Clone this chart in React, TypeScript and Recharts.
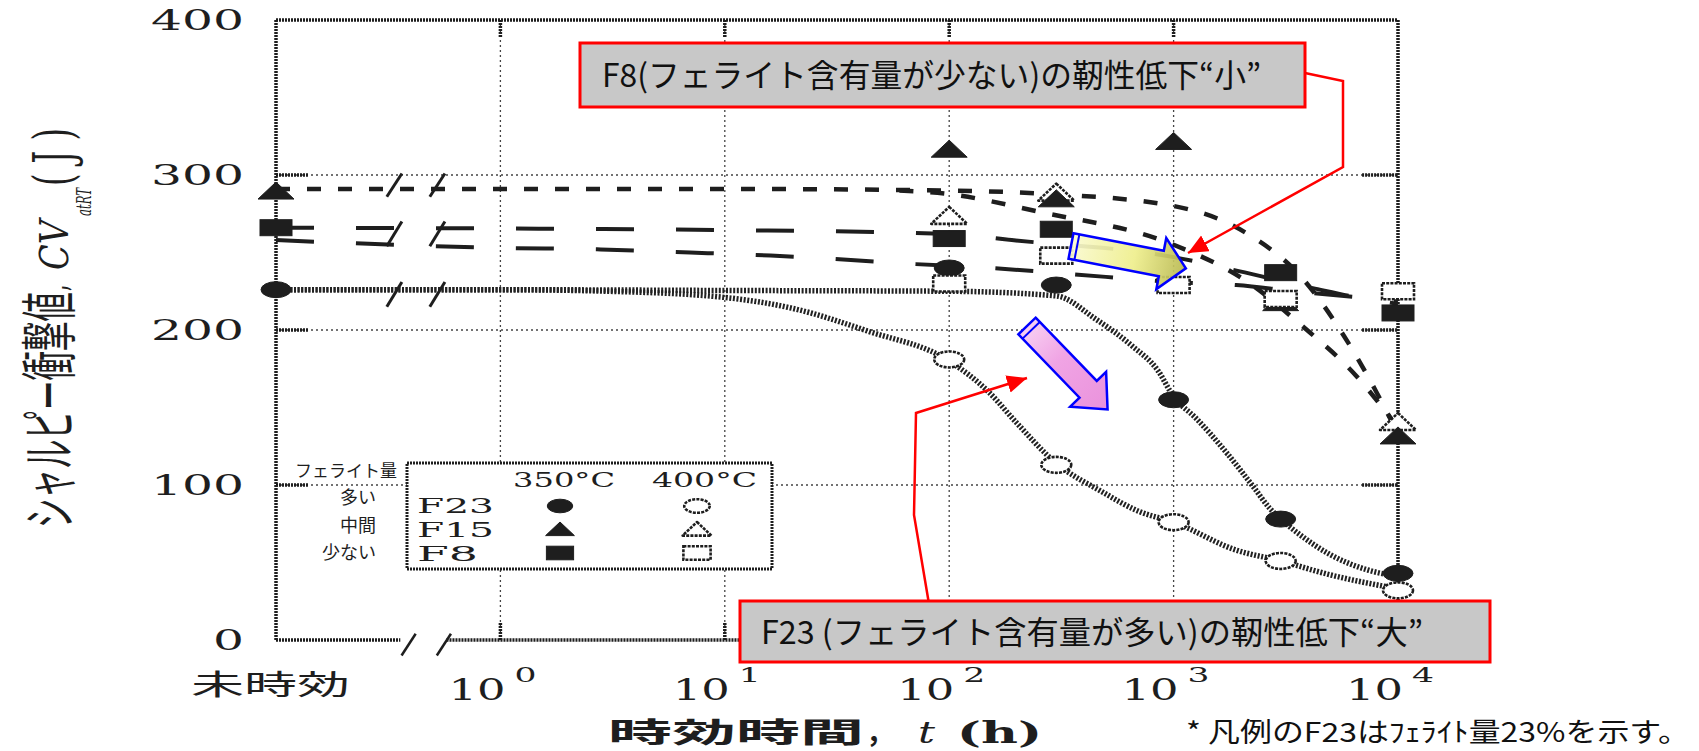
import React from 'react';
import { ComposedChart, Line, Scatter, XAxis, YAxis, CartesianGrid, ReferenceLine } from 'recharts';

const W = 1699;
const H = 751;

const SERIF = '"DejaVu Serif", "Liberation Serif", serif';
const JP = '"Noto Sans CJK JP", "Noto Sans", sans-serif';
const INK = '#1e1e1e';

// x = ageing time in h (0.1 stands for the 未時効 column), y = Charpy energy (J)
const xTicks = [0.1, 1, 10, 100, 1000, 10000];
const yTicks = [0, 100, 200, 300, 400];

// measured points
const f23At350_t = [0.1, 100, 300, 1000, 3000, 10000];
const f23At350_v = [226, 240, 229, 155, 78, 43];
const f23At400_t = [100, 300, 1000, 3000, 10000];
const f23At400_v = [181, 113, 76, 51, 32];
const f15At350_t = [0.1, 100, 300, 1000, 3000, 10000];
const f15At350_v = [289, 316, 284, 321, 217, 131];
const f15At400_t = [100, 300, 10000];
const f15At400_v = [273, 288, 140];
const f8At350_t = [0.1, 100, 300, 3000, 10000];
const f8At350_v = [266, 259, 265, 237, 211];
const f8At400_t = [100, 300, 1000, 3000, 10000];
const f8At400_v = [230, 248, 229, 220, 225];

// hand drawn trend curves
const f15CurveA_t = [0.1, 1, 10, 95, 257, 1000, 2138, 3715, 5754, 7943, 10000];
const f15CurveA_v = [291, 291, 291, 290, 288, 280, 262, 234, 196, 161, 133];
const f15CurveB_t = [60, 95, 257, 1000, 2138, 3715, 6457, 10000];
const f15CurveB_v = [290, 288, 276, 255, 231, 203, 171, 137];
const f8CurveA_t = [0.1, 1, 10, 100, 190, 1000, 1950, 4170, 7900, 10000];
const f8CurveA_v = [266, 265.5, 264.5, 262, 258, 247, 238, 227, 219, 217];
const f8CurveB_t = [0.1, 1, 2.8, 7, 16, 30, 71, 155, 355, 1000, 1900, 4000, 10000];
const f8CurveB_v = [258, 253, 252, 250, 248, 246, 242.5, 240, 236, 231, 229, 224, 219];
const f23CurveA_t = [0.1, 1, 10, 100, 300, 450, 650, 850, 1000, 1260, 1740, 2290, 2680, 3000, 3650, 5000, 7400, 10000];
const f23CurveA_v = [226, 226, 225.5, 225, 222, 207, 190, 174, 157, 143, 120, 98, 85, 78, 68, 55, 45, 41];
const f23CurveB_t = [0.1, 1, 3, 10, 20, 44, 100, 150, 200, 300, 475, 700, 1000, 1900, 3000, 5000, 10000];
const f23CurveB_v = [226, 226, 225, 221, 214, 199, 180, 160, 140, 114, 96, 83, 76, 58, 51, 42, 33];

// frame decorations
const innerDecades = [1, 10, 100, 1000];
const innerHundreds = [100, 200, 300];
const curveBreakT = [0.337, 0.524];
const curveBreakRows = [[286, 301], [254, 270], [215, 231]];
const axisBreakT = [0.39, 0.56];

const pts = (t: number[], v: number[]) => t.map((x, i) => ({ t: x, v: v[i] }));

type Kind = 'circle' | 'tri' | 'square';

const Mark = ({ cx, cy, kind, filled, k = 1 }: { cx: number; cy: number; kind: Kind; filled: boolean; k?: number }) => {
    const fill = filled ? INK : '#fff';
    const sw = filled ? 1 : 2.6;
    const dash = filled ? undefined : '3 1.2';
    if (kind === 'circle') {
        return <ellipse cx={cx} cy={cy} rx={15 * k} ry={8 * k} fill={fill} stroke={INK} strokeWidth={sw} strokeDasharray={dash} />;
    }
    if (kind === 'tri') {
        return (
            <polygon
                points={`${cx},${cy - 10 * k} ${cx + 18 * k},${cy + 7 * k} ${cx - 18 * k},${cy + 7 * k}`}
                fill={fill} stroke={INK} strokeWidth={sw} strokeDasharray={dash} strokeLinejoin="round"
            />
        );
    }
    return <rect x={cx - 16 * k} y={cy - 8 * k} width={32 * k} height={16 * k} fill={fill} stroke={INK} strokeWidth={sw} strokeDasharray={dash} />;
};

const markShape = (kind: Kind, filled: boolean) => (p: any) => <Mark cx={p.cx} cy={p.cy} kind={kind} filled={filled} />;

const YTick = ({ x, y, payload }: any) => {
    const s = String(payload.value);
    return (
        <text x={x} y={y + 10} textAnchor="end" fontFamily={SERIF} fontSize={28} fill={INK}
            textLength={31 * s.length} lengthAdjust="spacingAndGlyphs">{s}</text>
    );
};

const XTick = ({ x, y, payload }: any) => {
    const v = payload.value;
    if (v < 1) {
        return (
            <text x={x - 85} y={y + 55} fontFamily={JP} fontSize={28} fill={INK}
                textLength={159} lengthAdjust="spacingAndGlyphs">未時効</text>
        );
    }
    const e = Math.round(Math.log10(v));
    return (
        <g>
            <text x={x - 52} y={y + 60} fontFamily={SERIF} fontSize={30} fill={INK}
                textLength={57} lengthAdjust="spacingAndGlyphs">10</text>
            <text x={x + 14} y={y + 42} fontFamily={SERIF} fontSize={20} fill={INK}
                textLength={22} lengthAdjust="spacingAndGlyphs">{e}</text>
        </g>
    );
};

const frame = { stroke: INK, strokeWidth: 3.5, strokeDasharray: '2 1' };
const thin = { stroke: INK, strokeWidth: 2.5 };

const Overlay = () => (
    <svg width={W} height={H} style={{ position: 'absolute', left: 0, top: 0, pointerEvents: 'none' }}>
        <defs>
            <marker id="redHead" markerUnits="userSpaceOnUse" markerWidth={22} markerHeight={20} refX={20} refY={9} orient="auto">
                <path d="M0,0 L20,9 L0,18 z" fill="#ff0000" />
            </marker>
            <linearGradient id="yel" x1="0" y1="0" x2="1" y2="0">
                <stop offset="0" stopColor="#fafad0" />
                <stop offset="0.55" stopColor="#eeee8c" />
                <stop offset="1" stopColor="#b8b850" />
            </linearGradient>
            <linearGradient id="pink" x1="0" y1="0" x2="1" y2="0">
                <stop offset="0" stopColor="#f8d0f2" />
                <stop offset="0.4" stopColor="#f0a4e4" />
                <stop offset="1" stopColor="#ea92dc" />
            </linearGradient>
        </defs>

        {/* y axis title, read bottom to top */}
        <g transform="translate(70,528) rotate(-90) scale(1,1.95)" fill={INK}>
            <text x={0} y={0} fontFamily={JP} fontSize={29} textLength={236} lengthAdjust="spacingAndGlyphs">シャルピー衝撃値</text>
            <text x={237} y={-2} fontFamily={SERIF} fontSize={20}>,</text>
            <text x={258} y={-1} fontFamily={SERIF} fontStyle="italic" fontSize={20} textLength={50} lengthAdjust="spacingAndGlyphs">CV</text>
            <text x={312} y={11} fontFamily={SERIF} fontStyle="italic" fontSize={10} textLength={28} lengthAdjust="spacingAndGlyphs">atRT</text>
            <text x={342} y={1} fontFamily={SERIF} fontSize={28} textLength={58} lengthAdjust="spacingAndGlyphs">( J )</text>
        </g>

        {/* x axis title */}
        <g fill={INK}>
            <text x={608} y={743} fontFamily={JP} fontWeight="bold" fontSize={28} textLength={256} lengthAdjust="spacingAndGlyphs">時効時間</text>
            <text x={866} y={743} fontFamily={JP} fontWeight="bold" fontSize={28}>，</text>
            <text x={918} y={743} fontFamily={SERIF} fontStyle="italic" fontSize={30} textLength={17} lengthAdjust="spacingAndGlyphs">t</text>
            <text x={957} y={743} fontFamily={SERIF} fontWeight="bold" fontSize={30} textLength={85} lengthAdjust="spacingAndGlyphs">(h)</text>
        </g>

        {/* legend */}
        <g fill={INK}>
            <text x={295} y={477} fontFamily={JP} fontSize={17}>フェライト量</text>
            <text x={376} y={504} textAnchor="end" fontFamily={JP} fontSize={18}>多い</text>
            <text x={376} y={532} textAnchor="end" fontFamily={JP} fontSize={18}>中間</text>
            <text x={376} y={559} textAnchor="end" fontFamily={JP} fontSize={18}>少ない</text>
            <rect x={407} y={463} width={365} height={106} fill="#fff" {...frame} strokeWidth={3} />
            <text x={513} y={487} fontFamily={SERIF} fontSize={21} textLength={102} lengthAdjust="spacingAndGlyphs">350°C</text>
            <text x={652} y={487} fontFamily={SERIF} fontSize={21} textLength={105} lengthAdjust="spacingAndGlyphs">400°C</text>
            <text x={417} y={513} fontFamily={SERIF} fontSize={20} textLength={77} lengthAdjust="spacingAndGlyphs">F23</text>
            <text x={417} y={537} fontFamily={SERIF} fontSize={20} textLength={77} lengthAdjust="spacingAndGlyphs">F15</text>
            <text x={417} y={561} fontFamily={SERIF} fontSize={20} textLength={61} lengthAdjust="spacingAndGlyphs">F8</text>
            <Mark cx={560} cy={506} kind="circle" filled k={0.85} />
            <Mark cx={560} cy={530} kind="tri" filled k={0.8} />
            <Mark cx={560} cy={553} kind="square" filled k={0.85} />
            <Mark cx={697} cy={506} kind="circle" filled={false} k={0.85} />
            <Mark cx={697} cy={530} kind="tri" filled={false} k={0.8} />
            <Mark cx={697} cy={553} kind="square" filled={false} k={0.85} />
        </g>

        {/* arrows */}
        <g transform="translate(1071,246) rotate(11)">
            <polygon points="0,-13 92,-13 92,-26 117,0 92,26 92,13 0,13" fill="url(#yel)" fillOpacity={0.92} stroke="#0000ff" strokeWidth={2.5} strokeLinejoin="miter" />
            <line x1={6} y1={-13} x2={6} y2={13} stroke="#0000ff" strokeWidth={2} />
        </g>
        <g transform="translate(1027,326) rotate(46)">
            <polygon points="0,-12 88,-12 88,-25 116,0 88,25 88,12 0,12" fill="url(#pink)" stroke="#0000ff" strokeWidth={2.5} strokeLinejoin="miter" />
            <line x1={6} y1={-12} x2={6} y2={12} stroke="#0000ff" strokeWidth={2} />
        </g>

        {/* callouts */}
        <polyline points="1305,73 1343,81 1343,167 1188,253" fill="none" stroke="#ff0000" strokeWidth={2.5} markerEnd="url(#redHead)" />
        <polyline points="929,604 914,515 916,413 1027,378" fill="none" stroke="#ff0000" strokeWidth={2.5} markerEnd="url(#redHead)" />
        <rect x={580} y={43} width={725} height={64} fill="#c8c8c8" stroke="#ff0000" strokeWidth={3} />
        <text x={602} y={87} fontFamily={JP} fontSize={32} fill="#111" textLength={659} lengthAdjust="spacingAndGlyphs">F8(フェライト含有量が少ない)の靭性低下“小”</text>
        <rect x={740} y={601} width={750} height={61} fill="#c8c8c8" stroke="#ff0000" strokeWidth={3} />
        <text x={761} y={644} fontFamily={JP} fontSize={32} fill="#111" textLength={662} lengthAdjust="spacingAndGlyphs">F23 (フェライト含有量が多い)の靭性低下“大”</text>

        {/* footnote */}
        <text x={1186} y={742} fontFamily={JP} fontSize={27} fill="#111" textLength={504} lengthAdjust="spacingAndGlyphs">* 凡例のF23はﾌｪﾗｲﾄ量23%を示す。</text>
    </svg>
);

const App = () => (
    <div style={{ position: 'absolute', left: 0, top: 0, width: W, height: H, background: '#fff', overflow: 'hidden' }}>
        <div style={{ position: 'absolute', left: 0, top: 0 }}>
            <ComposedChart width={W} height={H} margin={{ top: 20, right: 301, bottom: 0, left: 146 }}>
                <CartesianGrid stroke="#444" strokeWidth={1.3} strokeDasharray="2 3"
                    horizontalValues={innerHundreds} verticalValues={innerDecades} />
                <XAxis dataKey="t" type="number" scale="log" domain={[0.1, 10000]} ticks={xTicks}
                    height={111} axisLine={false} tickLine={false} tickSize={0} tickMargin={0}
                    tick={<XTick />} interval={0} />
                <YAxis dataKey="v" type="number" domain={[0, 400]} ticks={yTicks} width={130}
                    axisLine={false} tickLine={false} tickSize={0} tickMargin={32} tick={<YTick />} interval={0} />

                {/* frame */}
                <ReferenceLine y={400} {...frame} />
                <ReferenceLine x={0.1} {...frame} />
                <ReferenceLine x={10000} {...frame} />
                <ReferenceLine segment={[{ x: 0.1, y: 0 }, { x: 0.358, y: 0 }]} {...frame} />
                <ReferenceLine segment={[{ x: 0.575, y: 0 }, { x: 10000, y: 0 }]} {...frame} />
                {axisBreakT.map((t) => (
                    <ReferenceLine key={`ab${t}`} segment={[{ x: t * 0.93, y: -10 }, { x: t * 1.075, y: 4 }]} ifOverflow="visible" {...thin} />
                ))}
                {innerDecades.map((t) => (
                    <ReferenceLine key={`tt${t}`} segment={[{ x: t, y: 389 }, { x: t, y: 400 }]} {...frame} />
                ))}
                {innerDecades.map((t) => (
                    <ReferenceLine key={`bt${t}`} segment={[{ x: t, y: 0 }, { x: t, y: 11 }]} {...frame} />
                ))}
                {innerHundreds.map((v) => (
                    <ReferenceLine key={`lt${v}`} segment={[{ x: 0.1, y: v }, { x: 0.139, y: v }]} {...frame} />
                ))}
                {innerHundreds.map((v) => (
                    <ReferenceLine key={`rt${v}`} segment={[{ x: 6918, y: v }, { x: 10000, y: v }]} {...frame} />
                ))}

                {/* trend curves */}
                <Line data={pts(f15CurveA_t, f15CurveA_v)} dataKey="v" type="monotone" dot={false} activeDot={false}
                    stroke={INK} strokeWidth={4.5} strokeDasharray="14 17" isAnimationActive={false} />
                <Line data={pts(f15CurveB_t, f15CurveB_v)} dataKey="v" type="monotone" dot={false} activeDot={false}
                    stroke={INK} strokeWidth={4.5} strokeDasharray="14 17" isAnimationActive={false} />
                <Line data={pts(f8CurveA_t, f8CurveA_v)} dataKey="v" type="monotone" dot={false} activeDot={false}
                    stroke={INK} strokeWidth={4} strokeDasharray="38 42" isAnimationActive={false} />
                <Line data={pts(f8CurveB_t, f8CurveB_v)} dataKey="v" type="monotone" dot={false} activeDot={false}
                    stroke={INK} strokeWidth={4} strokeDasharray="38 42" isAnimationActive={false} />
                <Line data={pts(f23CurveA_t, f23CurveA_v)} dataKey="v" type="monotone" dot={false} activeDot={false}
                    stroke="#222" strokeWidth={5.5} strokeDasharray="2 1.6" isAnimationActive={false} />
                <Line data={pts(f23CurveB_t, f23CurveB_v)} dataKey="v" type="monotone" dot={false} activeDot={false}
                    stroke="#222" strokeWidth={5.5} strokeDasharray="2 1.6" isAnimationActive={false} />

                {curveBreakT.map((t) =>
                    curveBreakRows.map(([lo, hi]) => (
                        <ReferenceLine key={`cb${t}-${lo}`} segment={[{ x: t * 0.925, y: lo }, { x: t * 1.08, y: hi }]} ifOverflow="visible" {...thin} strokeWidth={3} />
                    ))
                )}

                {/* measured points */}
                <Scatter data={pts(f23At350_t, f23At350_v)} dataKey="v" shape={markShape('circle', true)} isAnimationActive={false} />
                <Scatter data={pts(f23At400_t, f23At400_v)} dataKey="v" shape={markShape('circle', false)} isAnimationActive={false} />
                <Scatter data={pts(f15At400_t, f15At400_v)} dataKey="v" shape={markShape('tri', false)} isAnimationActive={false} />
                <Scatter data={pts(f15At350_t, f15At350_v)} dataKey="v" shape={markShape('tri', true)} isAnimationActive={false} />
                <Scatter data={pts(f8At400_t, f8At400_v)} dataKey="v" shape={markShape('square', false)} isAnimationActive={false} />
                <Scatter data={pts(f8At350_t, f8At350_v)} dataKey="v" shape={markShape('square', true)} isAnimationActive={false} />
            </ComposedChart>
        </div>
        <Overlay />
    </div>
);

export default App;
